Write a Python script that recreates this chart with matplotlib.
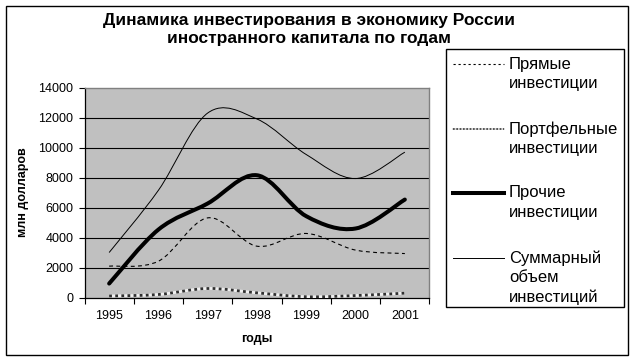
import numpy as np
import matplotlib
matplotlib.use('Agg')
import matplotlib.pyplot as plt
from matplotlib.path import Path
from matplotlib.patches import PathPatch, Rectangle
from matplotlib.lines import Line2D

plt.rcParams['font.family'] = ['Liberation Sans', 'DejaVu Sans']

# data (млн долларов)
years = ['1995', '1996', '1997', '1998', '1999', '2000', '2001']
direct = [2090, 2420, 5310, 3420, 4270, 3160, 2930]
portfolio = [100, 200, 600, 310, 50, 130, 290]
other = [930, 4530, 6270, 8150, 5420, 4600, 6530]
total = [3000, 7150, 12300, 11900, 9530, 7930, 9690]

labels = ['Прямые\nинвестиции', 'Портфельные\nинвестиции',
          'Прочие\nинвестиции', 'Суммарный\nобъем\nинвестиций']
yticks = [0, 2000, 4000, 6000, 8000, 10000, 12000, 14000]


def smooth_path(ys):
    # Excel-like smoothed line: cubic Bezier through every point
    pts = np.column_stack([np.arange(len(ys)), ys]).astype(float)
    n = len(pts)
    verts = [pts[0]]
    codes = [Path.MOVETO]
    for i in range(n - 1):
        p0 = pts[max(i - 1, 0)]
        p1 = pts[i]
        p2 = pts[i + 1]
        p3 = pts[min(i + 2, n - 1)]
        verts += [p1 + (p2 - p0) / 6, p2 - (p3 - p1) / 6, p2]
        codes += [Path.CURVE4] * 3
    return Path(verts, codes)


fig = plt.figure(figsize=(6.33, 3.6), dpi=100)
ax = fig.add_axes([0.1335, 0.1736, 0.545, 0.5833])
ax.set_facecolor('#c0c0c0')

for y in yticks[1:-1]:
    ax.axhline(y, color='black', lw=0.8, zorder=1)

styles = [
    dict(color='black', lw=0.8, linestyle=(0, (3.5, 3))),
    None,
    dict(color='black', lw=2.9, capstyle='round', joinstyle='round'),
    dict(color='black', lw=0.7),
]
series = [direct, portfolio, other, total]
for vals, st in zip(series, styles):
    if st is None:
        # checkered grey line
        ax.add_patch(PathPatch(smooth_path(vals), fill=False, color='#f0f0f0', lw=2.0, zorder=3))
        ax.add_patch(PathPatch(smooth_path(vals), fill=False, color='#303030', lw=2.0,
                               linestyle=(0, (1, 1.2)), zorder=3))
    else:
        ax.add_patch(PathPatch(smooth_path(vals), fill=False, zorder=3, **st))

ax.set_xlim(-0.5, len(years) - 0.5)
ax.set_ylim(0, 14000)
ax.set_yticks(yticks)
ax.set_yticklabels([str(v) for v in yticks], fontsize=9)
ax.set_xticks(range(len(years)))
ax.set_xticklabels(years, fontsize=9)
ax.set_xticks(np.arange(-0.5, len(years)), minor=True)
ax.tick_params(axis='x', which='major', length=0, pad=9)
ax.tick_params(axis='x', which='minor', length=4, width=0.8, direction='out')
ax.tick_params(axis='y', length=4, width=0.8, direction='out', pad=4)

for s in ['left', 'bottom']:
    ax.spines[s].set_color('black')
    ax.spines[s].set_linewidth(0.9)
for s in ['top', 'right']:
    ax.spines[s].set_color('#808080')
    ax.spines[s].set_linewidth(1.0)

ax.set_xlabel('годы', fontsize=9, fontweight='bold', labelpad=8)
ax.set_ylabel('млн долларов', fontsize=9, fontweight='bold', labelpad=7)

fig.text(309 / 633, 1 - 20 / 360, 'Динамика инвестирования в экономику России',
         ha='center', va='center', fontsize=12.5, fontweight='bold')
fig.text(309 / 633, 1 - 39 / 360, 'иностранного капитала по годам',
         ha='center', va='center', fontsize=12.5, fontweight='bold')

# legend, drawn by hand so the key lines up with the first text line
W, H = 633, 360
fig.patches.append(Rectangle((446 / W, 1 - 307 / H), (624 - 446) / W, (307 - 49) / H,
                             transform=fig.transFigure, fill=False, edgecolor='black', lw=1))
entry_y = [64, 129, 193, 258]
for lab, st, ey in zip(labels, styles, entry_y):
    yy = 1 - ey / H
    if st is None:
        fig.add_artist(Line2D([453 / W, 504 / W], [yy, yy], color='#d0d0d0', lw=1.2))
        fig.add_artist(Line2D([453 / W, 504 / W], [yy, yy], color='#404040', lw=1.2,
                              linestyle=(0, (1, 1))))
    else:
        kw = dict(st)
        kw.pop('capstyle', None)
        kw.pop('joinstyle', None)
        if st['lw'] < 1:
            kw['linestyle'] = (0, (2, 2.5)) if 'linestyle' in st else '-'
        fig.add_artist(Line2D([453 / W, 504 / W], [yy, yy], **kw))
    for k, line in enumerate(lab.split('\n')):
        fig.text(509 / W, 1 - (ey + 19.5 * k) / H, line, ha='left', va='center', fontsize=12)

fig.patches.append(Rectangle((5.5 / W, 1 - 354.5 / H), (628 - 5.5) / W, (354.5 - 5.5) / H,
                             transform=fig.transFigure, fill=False, edgecolor='black', lw=1))

fig.savefig('out.png', dpi=100, facecolor='white')
